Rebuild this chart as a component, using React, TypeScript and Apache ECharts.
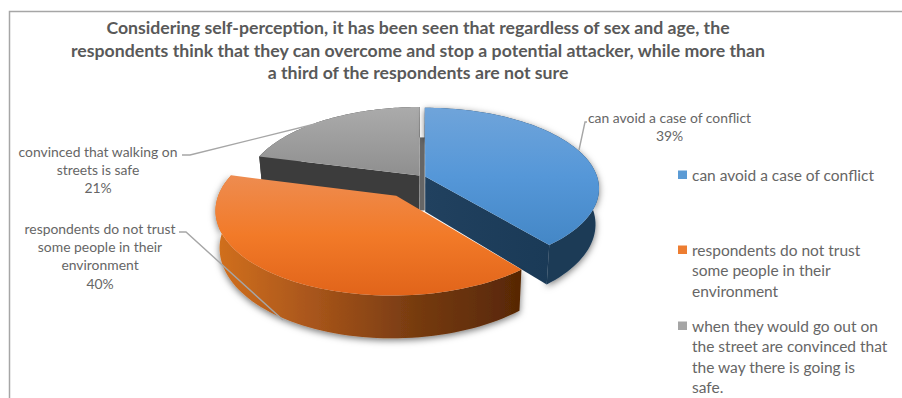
import React, { useEffect, useRef } from "react";
import * as echarts from "echarts";

const titleLines = [
  "Considering self-perception, it has been seen that regardless of sex and age, the",
  "respondents think that they can overcome and stop a potential attacker, while more than",
  "a third of the respondents are not sure",
];
const legendNames = [
  "can avoid a case of conflict",
  "respondents do not trust\nsome people in their\nenvironment",
  "when they would go out on\nthe street are convinced that\nthe way there is going is\nsafe.",
];
const labelNames = [
  "can avoid a case of conflict",
  "respondents do not trust\nsome people in their\nenvironment",
  "convinced that walking on\nstreets is safe",
];
const shares = [39, 40, 21];

const FONT = "Lato, Carlito, Calibri, sans-serif";
const TEXT = "#666666";

// Projection of the tilted disc: world (x, z) in radii, z growing toward the viewer.
const CX = 422, CY = 177, RX = 172, RY = 79, PERSP = 0.148, DEPTH = 35, BASE_X = 0.98;
const project = (x: number, z: number) => {
  const w = 1 - PERSP * z;
  return { x: CX + (RX * x) / w, y: CY + (RY * z) / w, w };
};
const lower = (p: { x: number; y: number; w: number }) => [
  CX + (p.x - CX) * BASE_X,
  p.y + DEPTH / p.w,
];

const grad = (horizontal: boolean, stops: string[]) =>
  new echarts.graphic.LinearGradient(
    0, 0, horizontal ? 1 : 0, horizontal ? 0 : 1,
    stops.map((color, i) => ({ offset: i / (stops.length - 1), color })),
  );

const sliceStyles = [
  {
    explode: 0.02, z: 3, swatch: "#5b9bd5", shadow: true,
    top: ["#6fa4da", "#5597d8", "#4487c6"],
    arcWall: ["#1a3a57", "#1a3a57"], radialWall: ["#21415f", "#1a3a57"],
  },
  {
    explode: 0.27, z: 4, swatch: "#ed7d31", shadow: true,
    top: ["#ee8c50", "#f27a28", "#e1641a"],
    arcWall: ["#d2701f", "#a6541a", "#753a10", "#572705"], radialWall: ["#8a4512", "#5c2a08"],
  },
  {
    explode: 0.025, z: 2, swatch: "#a5a5a5", shadow: false,
    top: ["#ababab", "#8f8f8f"],
    arcWall: ["#3c3c3c", "#3c3c3c"], radialWall: ["#3c3c3c", "#3c3c3c"],
  },
];

// Callout text anchors and leader paths for each slice.
const callouts = [
  { x: 669.5, y: 108, line: [[587, 122], [585, 122], [579, 150]] },
  { x: 100, y: 219, line: [[179, 232], [186, 232], [283, 320]] },
  { x: 98, y: 142, line: [[182, 155], [190, 155], [323, 122]] },
];

const legendLines = (name: string) => name.split("\n").length;
const LEGEND_LINE = 20.2;
// A swatch on the first text row: the zero-length moves stretch the symbol box to the full block.
const legendIcon = (lines: number) => {
  const h = lines * LEGEND_LINE;
  return `path://M0 0L0 0M0 ${h}L0 ${h}M0 5.5H9V14H0Z`;
};

function renderSlice(params: any, api: any) {
  const i = params.seriesIndex;
  const s = sliceStyles[i];
  const total = shares.reduce((a, b) => a + b, 0);
  const before = shares.slice(0, i).reduce((a, b) => a + b, 0);
  const a0 = (before / total) * Math.PI * 2;
  const a1 = ((before + api.value(0)) / total) * Math.PI * 2;
  const mid = (a0 + a1) / 2;
  const ox = Math.sin(mid) * s.explode;
  const oz = -Math.cos(mid) * s.explode;

  const apex = project(ox, oz);
  const rim: { x: number; y: number; w: number }[] = [];
  const steps = 72;
  for (let k = 0; k <= steps; k++) {
    const a = a0 + ((a1 - a0) * k) / steps;
    rim.push(project(ox + Math.sin(a), oz - Math.cos(a)));
  }
  const first = rim[0], last = rim[rim.length - 1];
  const xy = (p: { x: number; y: number }) => [p.x, p.y];
  const children: any[] = [];

  if (i === 2) {
    // Inner face showing through the gap beside the neighbouring slice.
    const xa = last.x, xb = last.x + 5, ya = last.y + DEPTH / last.w, yb = apex.y + DEPTH;
    children.push({
      type: "polygon",
      shape: { points: [[xa, ya], [xb, ya], [xb, yb], [xa, yb]] },
      style: { fill: "#666666" },
    });
  }
  const wallStyle: any = { fill: grad(true, s.arcWall) };
  if (s.shadow) {
    wallStyle.shadowBlur = 7;
    wallStyle.shadowColor = "rgba(0,0,0,0.55)";
    wallStyle.shadowOffsetY = 2;
  }
  children.push({
    type: "polygon",
    shape: { points: [...rim.map(xy), ...rim.slice().reverse().map(lower)] },
    style: wallStyle,
  });
  const radial = (edge: typeof apex) => ({
    type: "polygon",
    shape: { points: [xy(apex), xy(edge), lower(edge), lower(apex)] },
    style: { fill: grad(true, s.radialWall) },
  });
  // The orange slice's side faces stay hidden under its own top.
  if (i !== 1) children.push(radial(first), radial(last));
  children.push({
    type: "polygon",
    shape: { points: [xy(apex), ...rim.map(xy)] },
    style: { fill: grad(false, s.top) },
  });

  const c = callouts[i];
  children.push({
    type: "polyline",
    shape: { points: c.line },
    style: { stroke: "#a6a6a6", lineWidth: 1.4, fill: "none" },
  });
  children.push({
    type: "text",
    style: {
      text: `${labelNames[i]}\n${api.value(0)}%`,
      x: c.x,
      y: c.y,
      align: "center",
      verticalAlign: "top",
      fill: TEXT,
      fontFamily: FONT,
      fontSize: 13.9,
      lineHeight: 18.3,
    },
  });
  return { type: "group", children };
}

export default function App() {
  const ref = useRef<HTMLDivElement>(null);
  useEffect(() => {
    const chart = echarts.init(ref.current!, undefined, { renderer: "svg" });
    const legendTops = [165, 240, 316];
    chart.setOption({
      animation: false,
      backgroundColor: "#ffffff",
      title: {
        text: titleLines.join("\n"),
        left: 418,
        top: 16,
        padding: 0,
        textAlign: "center",
        textStyle: {
          fontFamily: FONT,
          fontWeight: "bold",
          fontSize: 17.7,
          lineHeight: 22.7,
          color: "#595959",
        },
      },
      legend: legendNames.map((name, i) => ({
        data: [name],
        left: 678,
        top: legendTops[i],
        padding: 0,
        orient: "vertical",
        selectedMode: false,
        itemWidth: 9,
        itemHeight: legendLines(name) * LEGEND_LINE,
        icon: legendIcon(legendLines(name)),
        textStyle: {
          fontFamily: FONT,
          fontSize: 15.5,
          lineHeight: LEGEND_LINE,
          color: TEXT,
        },
      })),
      graphic: [
        {
          type: "polyline",
          silent: true,
          shape: { points: [[9.5, 398], [9.5, 11.5], [902, 11.5]] },
          style: { stroke: "#a6a6a6", lineWidth: 1.5, fill: "none" },
        },
      ],
      series: shares.map((v, i) => ({
        type: "custom",
        name: legendNames[i],
        coordinateSystem: "none",
        z: sliceStyles[i].z,
        itemStyle: { color: sliceStyles[i].swatch },
        renderItem: renderSlice,
        data: [[v]],
      })),
    });
    return () => chart.dispose();
  }, []);
  return (
    <div
      ref={ref}
      style={{ position: "fixed", left: 0, top: 0, width: 902, height: 398 }}
    />
  );
}
